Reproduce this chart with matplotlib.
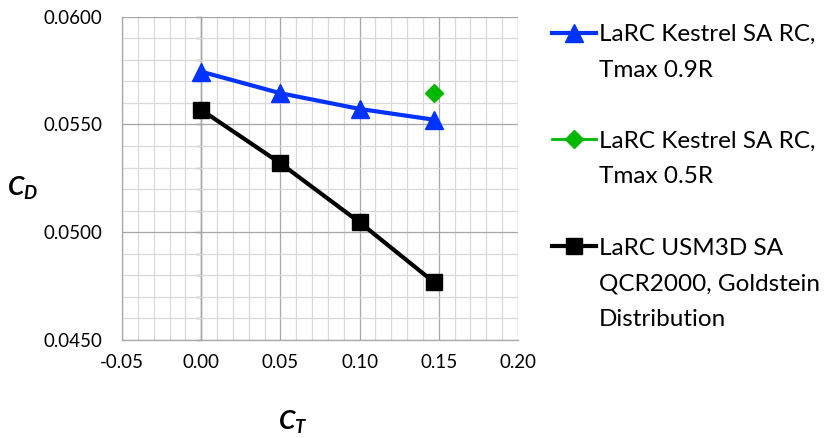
import matplotlib
matplotlib.use("Agg")
import matplotlib.pyplot as plt
from matplotlib.lines import Line2D
from matplotlib.ticker import MultipleLocator, FormatStrFormatter

plt.rcParams['font.family'] = ['Lato', 'DejaVu Sans']
plt.rcParams['mathtext.fontset'] = 'custom'
plt.rcParams['mathtext.it'] = 'Lato:italic:bold'
plt.rcParams['mathtext.rm'] = 'Lato:bold'

# Thrust coefficient vs drag coefficient
ct_kestrel_09 = [0.0, 0.05, 0.10, 0.147]
cd_kestrel_09 = [0.05745, 0.05645, 0.05572, 0.05522]

ct_kestrel_05 = [0.147]
cd_kestrel_05 = [0.05645]

ct_usm3d = [0.0, 0.05, 0.10, 0.147]
cd_usm3d = [0.05568, 0.05320, 0.05046, 0.04768]

labels = [
    ["LaRC Kestrel SA RC,", "Tmax 0.9R"],
    ["LaRC Kestrel SA RC,", "Tmax 0.5R"],
    ["LaRC USM3D SA", "QCR2000, Goldstein", "Distribution"],
]

fig = plt.figure(figsize=(8.30, 4.38), dpi=100)
ax = fig.add_axes([122 / 830, 1 - 340 / 438, 396 / 830, 323.3 / 438])

ax.set_xlim(-0.05, 0.20)
ax.set_ylim(0.0450, 0.0600)
ax.xaxis.set_major_locator(MultipleLocator(0.05))
ax.xaxis.set_minor_locator(MultipleLocator(0.01))
ax.yaxis.set_major_locator(MultipleLocator(0.005))
ax.yaxis.set_minor_locator(MultipleLocator(0.001))
ax.xaxis.set_major_formatter(FormatStrFormatter('%.2f'))
ax.yaxis.set_major_formatter(FormatStrFormatter('%.4f'))

ax.grid(which='minor', color='#d9d9d9', linewidth=0.9)
ax.grid(which='major', color='#a6a6a6', linewidth=0.9)
ax.set_axisbelow(True)

for side in ['top', 'right']:
    ax.spines[side].set_visible(False)
for side in ['left', 'bottom']:
    ax.spines[side].set_color('#a6a6a6')
    ax.spines[side].set_linewidth(0.9)

ax.tick_params(which='both', length=0, labelsize=13.5, colors='black')
ax.tick_params(axis='y', pad=14)
ax.tick_params(axis='x', pad=10)

# vertical axis line crossing at CT = 0 with its own tick marks
yax0 = ax.secondary_yaxis(0.2)
yax0.spines['left'].set_color('#868686')
yax0.spines['left'].set_linewidth(1.0)
yax0.yaxis.set_major_locator(MultipleLocator(0.005))
yax0.yaxis.set_minor_locator(MultipleLocator(0.001))
yax0.tick_params(which='both', direction='out', length=3.5, width=1.0,
                 color='#868686', labelleft=False)

h1, = ax.plot(ct_kestrel_09, cd_kestrel_09, color='#0033FF', linewidth=3.0,
              marker='^', markersize=13, zorder=3)
h2, = ax.plot(ct_kestrel_05, cd_kestrel_05, color='#00B800', linewidth=2.0,
              marker='D', markersize=9, zorder=3)
h3, = ax.plot(ct_usm3d, cd_usm3d, color='black', linewidth=3.0,
              marker='s', markersize=12, zorder=3)

ax.set_ylabel(r'$C_D$', fontsize=19, rotation=0, ha='center', va='center')
ax.yaxis.set_label_coords(-0.2525, 0.47)
ax.set_xlabel(r'$C_T$', fontsize=19, ha='center', va='center')
ax.xaxis.set_label_coords(0.43, -0.256)

# legend rows: the handle sits beside the first line of each wrapped label,
# with one blank row between entries
blank = Line2D([], [], linestyle='none')
leg_handles, leg_labels = [], []
for i, (handle, lines) in enumerate(zip([h1, h2, h3], labels)):
    if i > 0:
        leg_handles.append(blank)
        leg_labels.append(" ")
    for j, line in enumerate(lines):
        leg_handles.append(handle if j == 0 else blank)
        leg_labels.append(line)

leg = fig.legend(handles=leg_handles, labels=leg_labels, loc='upper left',
                 bbox_to_anchor=(552 / 830, 1 - 24 / 438),
                 frameon=False, fontsize=17.5, handlelength=1.8,
                 handletextpad=0.12, labelspacing=0.6, borderaxespad=0,
                 borderpad=0)

fig.savefig('out.png', dpi=100)
